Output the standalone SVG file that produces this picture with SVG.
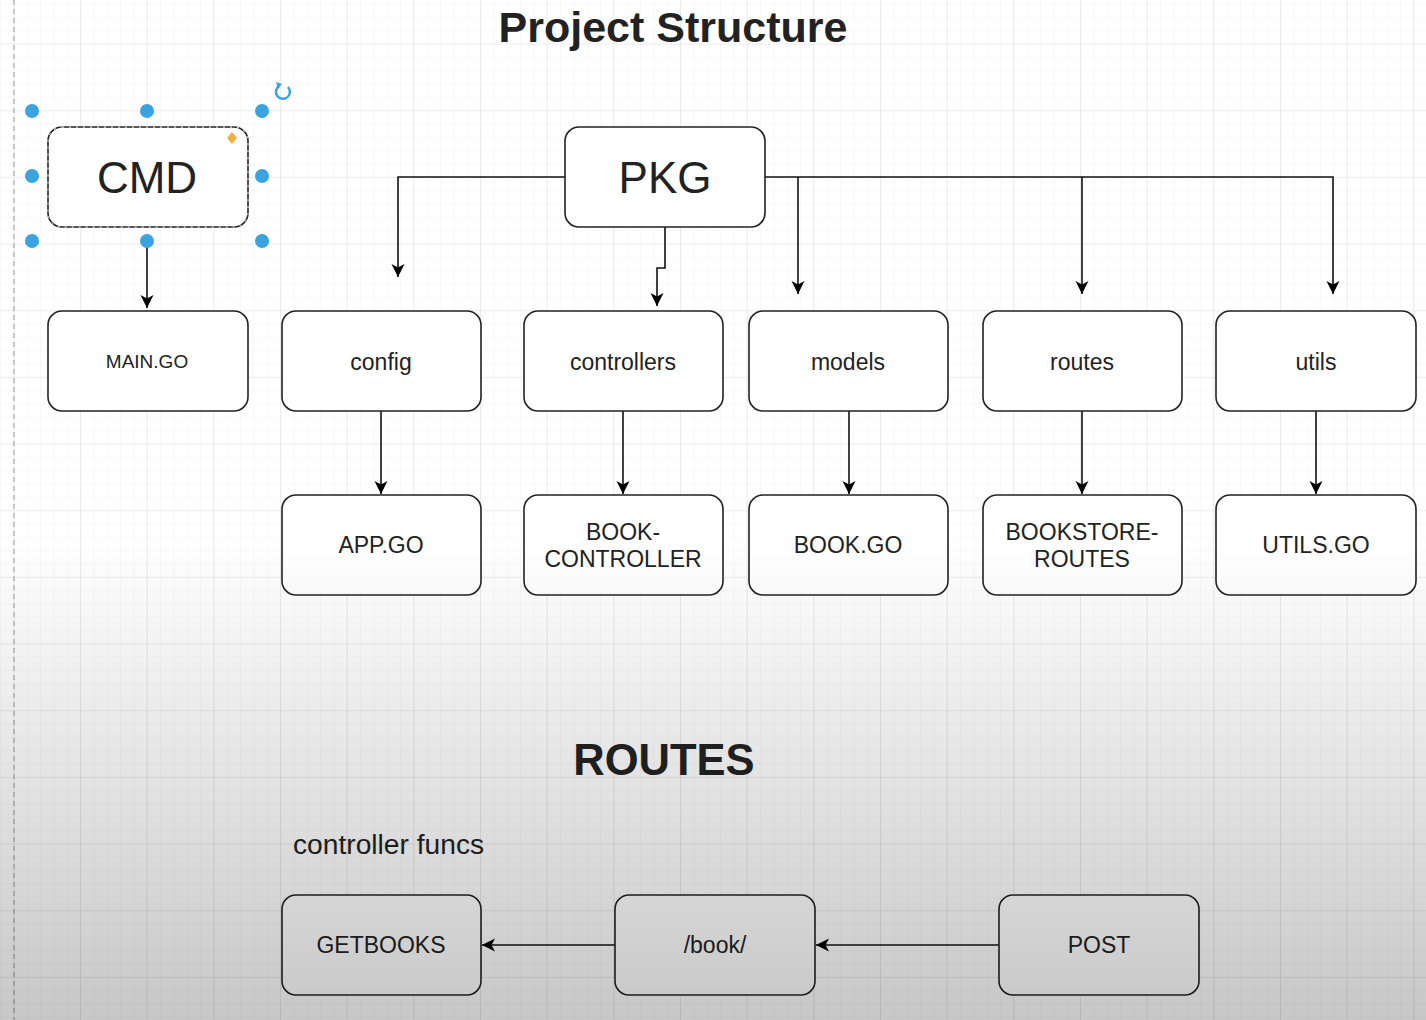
<svg xmlns="http://www.w3.org/2000/svg" width="1426" height="1020" viewBox="0 0 1426 1020">
<defs>
<pattern id="minor" x="13.33" y="43.6" width="13.333" height="13.333" patternUnits="userSpaceOnUse">
<path d="M0,0 H13.333 M0,0 V13.333" fill="none" stroke="#f1f1f1" stroke-width="1"/>
</pattern>
<pattern id="major" x="13.33" y="43.6" width="66.667" height="66.667" patternUnits="userSpaceOnUse">
<path d="M0,0 H66.667 M0,0 V66.667" fill="none" stroke="#e2e2e2" stroke-width="1.2"/>
</pattern>
<linearGradient id="shade" x1="0" y1="540" x2="0" y2="1020" gradientUnits="userSpaceOnUse">
<stop offset="0" stop-color="#000" stop-opacity="0"/>
<stop offset="1" stop-color="#000" stop-opacity="0.22"/>
</linearGradient>
<marker id="arr" markerUnits="userSpaceOnUse" markerWidth="15" markerHeight="15" refX="13" refY="6.5" orient="auto" viewBox="0 0 15 13">
<path d="M0,0 L13,6.5 L0,13 L3.5,6.5 Z" fill="#000"/>
</marker>
<style>
.box{fill:#fff;stroke:#222;stroke-width:1.6}
.t{font-family:"Liberation Sans",Arial,sans-serif;fill:#222;text-anchor:middle}
.m{font-size:23px}
.c{fill:none;stroke:#111;stroke-width:1.6}
.h{fill:#3aa3e0}
</style>
</defs>
<rect width="1426" height="1020" fill="#fff"/>
<rect width="1426" height="1020" fill="url(#minor)"/>
<rect width="1426" height="1020" fill="url(#major)"/>
<line x1="14" y1="0" x2="14" y2="1020" stroke="#aaa" stroke-width="1.2" stroke-dasharray="5 4"/>

<text class="t" x="673" y="42" font-size="43" font-weight="bold" fill="#111">Project Structure</text>
<text class="t" x="664" y="775" font-size="43.5" font-weight="bold" fill="#111">ROUTES</text>
<text x="293" y="854" font-family="Liberation Sans, Arial, sans-serif" font-size="28.2" fill="#222">controller funcs</text>

<g id="connectors">
<path class="c" d="M147,242 V308" marker-end="url(#arr)"/>
<path class="c" d="M565,177 H398 V277" marker-end="url(#arr)"/>
<path class="c" d="M665,227 V268 H657 V306" marker-end="url(#arr)"/>
<path class="c" d="M765,177 H1333 V294" marker-end="url(#arr)"/>
<path class="c" d="M798,177 V294" marker-end="url(#arr)"/>
<path class="c" d="M1082,177 V294" marker-end="url(#arr)"/>
<path class="c" d="M381,411 V494" marker-end="url(#arr)"/>
<path class="c" d="M623,411 V494" marker-end="url(#arr)"/>
<path class="c" d="M849,411 V494" marker-end="url(#arr)"/>
<path class="c" d="M1082,411 V494" marker-end="url(#arr)"/>
<path class="c" d="M1316,411 V494" marker-end="url(#arr)"/>
<path class="c" d="M615,945 H482" marker-end="url(#arr)"/>
<path class="c" d="M999,945 H816" marker-end="url(#arr)"/>
</g>

<g id="cmd">
<rect class="box" x="48" y="127" width="200" height="100" rx="14"/>
<rect x="48" y="127" width="200" height="100" rx="14" fill="none" stroke="#fff" stroke-width="1" stroke-dasharray="2 5"/>
<text class="t" x="147" y="193" font-size="44" fill="#111">CMD</text>
<path d="M232,132 L237,138 L232,144 L227,138 Z" fill="#f0b040"/>
<circle class="h" cx="32" cy="111" r="7"/><circle class="h" cx="147" cy="111" r="7"/><circle class="h" cx="262" cy="111" r="7"/>
<circle class="h" cx="32" cy="176" r="7"/><circle class="h" cx="262" cy="176" r="7"/>
<circle class="h" cx="32" cy="241" r="7"/><circle class="h" cx="147" cy="241" r="7"/><circle class="h" cx="262" cy="241" r="7"/>
<path d="M288,87 A7,7 0 1 1 279,86" fill="none" stroke="#3aa3e0" stroke-width="2.5"/>
<path d="M276,82 L282,84 L278,89 Z" fill="#3aa3e0"/>
</g>

<g id="pkg">
<rect class="box" x="565" y="127" width="200" height="100" rx="14"/>
<text class="t" x="665" y="193" font-size="44" fill="#111">PKG</text>
</g>

<g id="main-go"><rect class="box" x="48" y="311" width="200" height="100" rx="14"/><text class="t" x="147" y="368" font-size="19">MAIN.GO</text></g>
<g id="config"><rect class="box" x="282" y="311" width="199" height="100" rx="14"/><text class="t m" x="381" y="370">config</text></g>
<g id="controllers"><rect class="box" x="524" y="311" width="199" height="100" rx="14"/><text class="t m" x="623" y="370">controllers</text></g>
<g id="models"><rect class="box" x="749" y="311" width="199" height="100" rx="14"/><text class="t m" x="848" y="370">models</text></g>
<g id="routes"><rect class="box" x="983" y="311" width="199" height="100" rx="14"/><text class="t m" x="1082" y="370">routes</text></g>
<g id="utils"><rect class="box" x="1216" y="311" width="200" height="100" rx="14"/><text class="t m" x="1316" y="370">utils</text></g>

<g id="app-go"><rect class="box" x="282" y="495" width="199" height="100" rx="14"/><text class="t m" x="381" y="553">APP.GO</text></g>
<g id="book-controller"><rect class="box" x="524" y="495" width="199" height="100" rx="14"/><text class="t m" x="623" y="540">BOOK-</text><text class="t m" x="623" y="567">CONTROLLER</text></g>
<g id="book-go"><rect class="box" x="749" y="495" width="199" height="100" rx="14"/><text class="t m" x="848" y="553">BOOK.GO</text></g>
<g id="bookstore-routes"><rect class="box" x="983" y="495" width="199" height="100" rx="14"/><text class="t m" x="1082" y="540">BOOKSTORE-</text><text class="t m" x="1082" y="567">ROUTES</text></g>
<g id="utils-go"><rect class="box" x="1216" y="495" width="200" height="100" rx="14"/><text class="t m" x="1316" y="553">UTILS.GO</text></g>

<g id="getbooks"><rect class="box" x="282" y="895" width="199" height="100" rx="14"/><text class="t m" x="381" y="953">GETBOOKS</text></g>
<g id="book"><rect class="box" x="615" y="895" width="200" height="100" rx="14"/><text class="t m" x="715" y="953">/book/</text></g>
<g id="post"><rect class="box" x="999" y="895" width="200" height="100" rx="14"/><text class="t m" x="1099" y="953">POST</text></g>

<rect width="1426" height="1020" fill="url(#shade)" pointer-events="none"/>
</svg>
